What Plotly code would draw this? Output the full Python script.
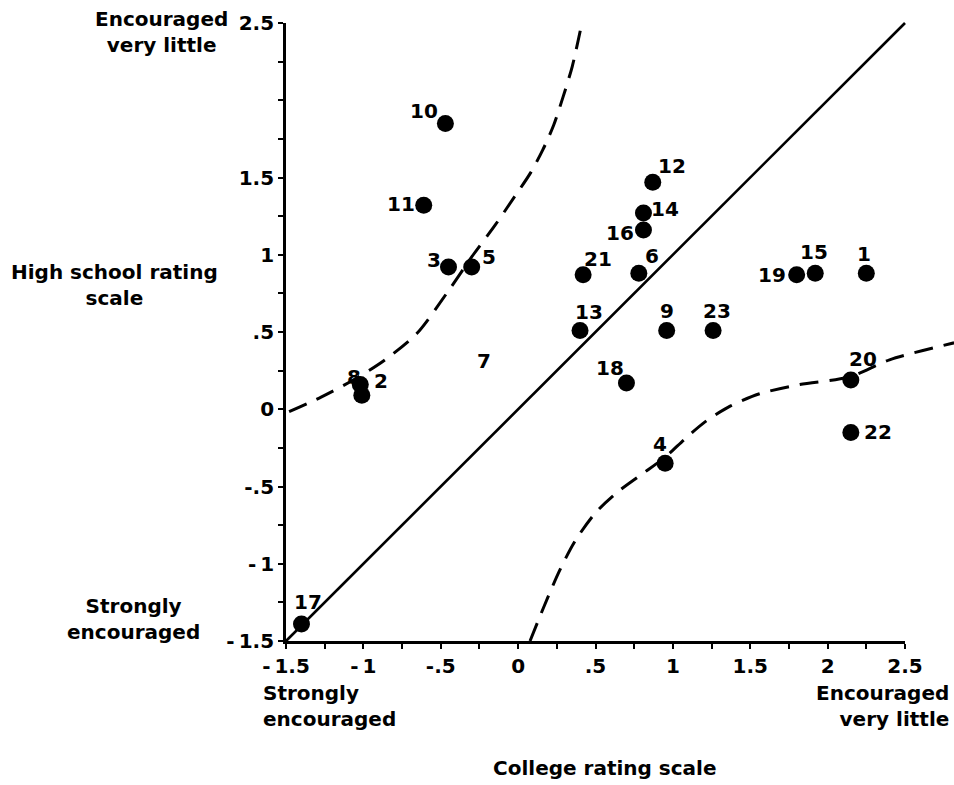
import plotly.graph_objects as go

# ---- data -------------------------------------------------------------
ids = ["1", "2", "3", "4", "5", "6", "8", "9", "10", "11", "12",
       "13", "14", "15", "16", "17", "18", "19", "20", "21", "22", "23"]
college = [2.25, -1.01, -0.45, 0.95, -0.30, 0.78, -1.02, 0.96, -0.47, -0.61, 0.87,
           0.40, 0.81, 1.92, 0.81, -1.40, 0.70, 1.80, 2.15, 0.42, 2.15, 1.26]
high_school = [0.88, 0.09, 0.92, -0.35, 0.92, 0.88, 0.16, 0.51, 1.85, 1.32, 1.47,
               0.51, 1.27, 0.88, 1.16, -1.39, 0.17, 0.87, 0.19, 0.87, -0.15, 0.51]

# item shown by number only
text_only_ids = ["7"]
text_only_college = [-0.22]
text_only_high_school = [0.31]

# equality line
diag_x = [-1.5, 2.5]
diag_y = [-1.5, 2.5]

# upper and lower boundary curves
upper_x = [-1.48, -1.27, -1.065, -0.86, -0.655, -0.462, -0.29, -0.15, -0.02,
           0.08, 0.16, 0.23, 0.29, 0.35, 0.41]
upper_y = [-0.016, 0.08, 0.189, 0.32, 0.49, 0.75, 1.0, 1.19, 1.38,
           1.53, 1.68, 1.84, 2.02, 2.22, 2.49]
lower_x = [0.077, 0.17, 0.27, 0.37, 0.5, 0.65, 0.8, 0.95, 1.08, 1.21,
           1.37, 1.56, 1.82, 2.145, 2.40, 2.817]
lower_y = [-1.5, -1.27, -1.04, -0.85, -0.67, -0.53, -0.42, -0.31, -0.19, -0.08,
           0.02, 0.10, 0.16, 0.21, 0.32, 0.43]

tick_vals = [-1.5, -1.25, -1.0, -0.75, -0.5, -0.25, 0.0, 0.25, 0.5, 0.75,
             1.0, 1.25, 1.5, 1.75, 2.0, 2.25, 2.5]
x_tick_text = ["-\u20091.5", "", "-\u20091", "", "-.5", "", "0", "", ".5", "",
               "1", "", "1.5", "", "2", "", "2.5"]
y_tick_text = ["-\u20091.5", "", "-\u20091", "", "-.5", "", "0", "", ".5", "",
               "1", "", "1.5", "", "", "", "2.5"]

# ---- geometry ---------------------------------------------------------
W, H = 954, 785
ML, MR, MT, MB = 270, 0, 10, 125
X_ORIGIN_PX, X_UNIT = 286.0, 154.75   # pixel of x=-1.5, pixels per unit
Y_ZERO_PX, Y_UNIT = 409.25, 154.5     # pixel of y=0, pixels per unit

xr = [-1.5 + (ML - X_ORIGIN_PX) / X_UNIT, -1.5 + (W - MR - X_ORIGIN_PX) / X_UNIT]
yr = [(Y_ZERO_PX - (H - MB)) / Y_UNIT, (Y_ZERO_PX - MT) / Y_UNIT]


def frac(v, r):
    return (v - r[0]) / (r[1] - r[0])


def px_x(px):
    return (px - ML) / (W - ML - MR)


def px_y(py):
    return 1 - (py - MT) / (H - MT - MB)


FONT = "DejaVu Sans"
INK = "black"

# label offsets in pixels (right, down)
offsets = {"1": (-2, -19), "2": (19, -14), "3": (-14, -7), "4": (-5, -19), "5": (17, -10),
           "6": (13, -17), "8": (-6, -8), "9": (0, -19), "10": (-21, -12), "11": (-23, -1),
           "12": (19, -16), "13": (9, -18), "14": (22, -4), "15": (-1, -21), "16": (-23, 3),
           "17": (7, -22), "18": (-16, -15), "19": (-25, 0), "20": (12, -21), "21": (15, -16),
           "22": (27, 0), "23": (4, -19)}

fig = go.Figure()

fig.add_trace(go.Scatter(x=diag_x, y=diag_y, mode="lines",
                         line=dict(color=INK, width=2.6), hoverinfo="skip"))
for cx, cy in ((upper_x, upper_y), (lower_x, lower_y)):
    fig.add_trace(go.Scatter(x=cx, y=cy, mode="lines",
                             line=dict(color=INK, width=3, dash="19px,11px",
                                       shape="spline", smoothing=0.8),
                             hoverinfo="skip"))
fig.add_trace(go.Scatter(x=college, y=high_school, mode="markers",
                         marker=dict(color=INK, size=17, line=dict(width=0)),
                         text=ids, hoverinfo="text"))

# axis frame drawn on its own subplot spanning -1.5..2.5
fig.add_trace(go.Scatter(x=[-1.5], y=[-1.5], xaxis="x2", yaxis="y2", mode="markers",
                         marker=dict(opacity=0), hoverinfo="skip"))

num_font = dict(family=FONT, size=20, color=INK, weight="bold")
annotations = []
for pid, cx, cy in zip(ids, college, high_school):
    dx, dy = offsets[pid]
    annotations.append(dict(x=cx, y=cy, xref="x", yref="y", text=pid, showarrow=False,
                            xshift=dx, yshift=-dy, font=num_font))
for pid, cx, cy in zip(text_only_ids, text_only_college, text_only_high_school):
    annotations.append(dict(x=cx, y=cy, xref="x", yref="y", text=pid, showarrow=False,
                            font=num_font))

word_font = dict(family=FONT, size=20, color=INK, weight="bold")
annotations += [
    dict(x=px_x(161), y=px_y(32), xref="paper", yref="paper", showarrow=False,
         text="Encouraged<br>very little", align="center", font=word_font,
         xanchor="center", yanchor="middle"),
    dict(x=px_x(114), y=px_y(285), xref="paper", yref="paper", showarrow=False,
         text="High school rating<br>scale", align="center", font=word_font,
         xanchor="center", yanchor="middle"),
    dict(x=px_x(133), y=px_y(619), xref="paper", yref="paper", showarrow=False,
         text="Strongly<br>encouraged", align="center", font=word_font,
         xanchor="center", yanchor="middle"),
    dict(x=px_x(261), y=px_y(706), xref="paper", yref="paper", showarrow=False,
         text="Strongly<br>encouraged", align="left", font=word_font,
         xanchor="left", yanchor="middle"),
    dict(x=px_x(951), y=px_y(706), xref="paper", yref="paper", showarrow=False,
         text="Encouraged<br>very little", align="right", font=word_font,
         xanchor="right", yanchor="middle"),
    dict(x=px_x(605), y=px_y(768), xref="paper", yref="paper", showarrow=False,
         text="College rating scale", font=word_font,
         xanchor="center", yanchor="middle"),
]

tick_font = dict(family=FONT, size=20, color=INK, weight="bold")
fig.update_layout(
    width=W, height=H,
    autosize=False,
    margin=dict(l=ML, r=MR, t=MT, b=MB, autoexpand=False),
    paper_bgcolor="white",
    plot_bgcolor="rgba(0,0,0,0)",
    showlegend=False,
    xaxis=dict(range=xr, visible=False, domain=[0, 1], automargin=False),
    yaxis=dict(range=yr, visible=False, domain=[0, 1], automargin=False),
    xaxis2=dict(range=[-1.5, 2.5], domain=[frac(-1.5, xr), frac(2.5, xr)], anchor="y2",
                automargin=False,
                showline=True, linecolor=INK, linewidth=2.8, showgrid=False, zeroline=False,
                tickmode="array", tickvals=tick_vals, ticktext=x_tick_text,
                ticks="outside", ticklen=5, tickwidth=2, tickcolor=INK,
                tickfont=tick_font),
    yaxis2=dict(range=[-1.5, 2.5], domain=[frac(-1.5, yr), frac(2.5, yr)], anchor="x2",
                automargin=False,
                showline=True, linecolor=INK, linewidth=2.8, showgrid=False, zeroline=False,
                tickmode="array", tickvals=tick_vals, ticktext=y_tick_text,
                ticks="outside", ticklen=5, tickwidth=2, tickcolor=INK,
                tickfont=tick_font),
    annotations=annotations,
)

fig.write_html("out.html")
